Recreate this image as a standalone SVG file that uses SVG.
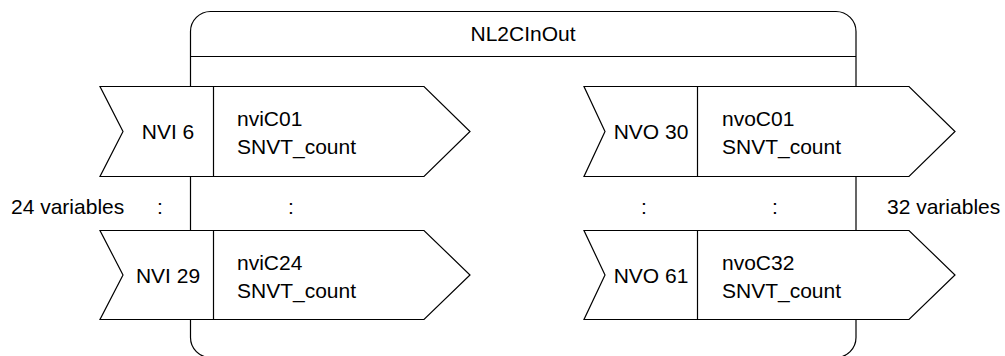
<svg xmlns="http://www.w3.org/2000/svg" width="1005" height="356" viewBox="0 0 1005 356">
<style>
.sh{fill:#fff;stroke:#000;stroke-width:1.2}
.ln{stroke:#000;stroke-width:1.2;fill:none}
text{font-family:"Liberation Sans",Arial,Helvetica,sans-serif;font-size:21px;fill:#000}
.c{text-anchor:middle}
</style>
<g id="container">
<rect class="sh" x="190.5" y="11.5" width="665.5" height="346" rx="20" ry="20"/>
<line class="ln" x1="190.5" y1="56.5" x2="856" y2="56.5"/>
<text class="c" x="523" y="41">NL2CInOut</text>
</g>
<g id="nvi6">
<path class="sh" d="M100,86.5 L424,86.5 L470,131.5 L424,176.5 L100,176.5 L123,131.5 Z"/>
<line class="ln" x1="213.5" y1="86.5" x2="213.5" y2="176.5"/>
<text class="c" x="168" y="139">NVI 6</text>
<text x="237" y="126">nviC01</text>
<text x="237" y="154">SNVT_count</text>
</g>
<g id="nvi29">
<path class="sh" d="M100,230.5 L424,230.5 L470,275 L424,319.5 L100,319.5 L123,275 Z"/>
<line class="ln" x1="213.5" y1="230.5" x2="213.5" y2="319.5"/>
<text class="c" x="168" y="282.5">NVI 29</text>
<text x="237" y="269.5">nviC24</text>
<text x="237" y="297.5">SNVT_count</text>
</g>
<g id="nvo30">
<path class="sh" d="M584,86.5 L909,86.5 L955,131.5 L909,176.5 L584,176.5 L605,131.5 Z"/>
<line class="ln" x1="697.5" y1="86.5" x2="697.5" y2="176.5"/>
<text class="c" x="651" y="139">NVO 30</text>
<text x="722" y="126">nvoC01</text>
<text x="722" y="154">SNVT_count</text>
</g>
<g id="nvo61">
<path class="sh" d="M584,230.5 L909,230.5 L955,275 L909,319.5 L584,319.5 L605,275 Z"/>
<line class="ln" x1="697.5" y1="230.5" x2="697.5" y2="319.5"/>
<text class="c" x="651" y="282.5">NVO 61</text>
<text x="722" y="269.5">nvoC32</text>
<text x="722" y="297.5">SNVT_count</text>
</g>
<g id="labels">
<text x="11" y="214">24 variables</text>
<text class="c" x="160" y="214">:</text>
<text class="c" x="291" y="214">:</text>
<text class="c" x="644" y="214">:</text>
<text class="c" x="775" y="214">:</text>
<text x="887" y="214">32 variables</text>
</g>
<g id="connectors"></g>
</svg>
